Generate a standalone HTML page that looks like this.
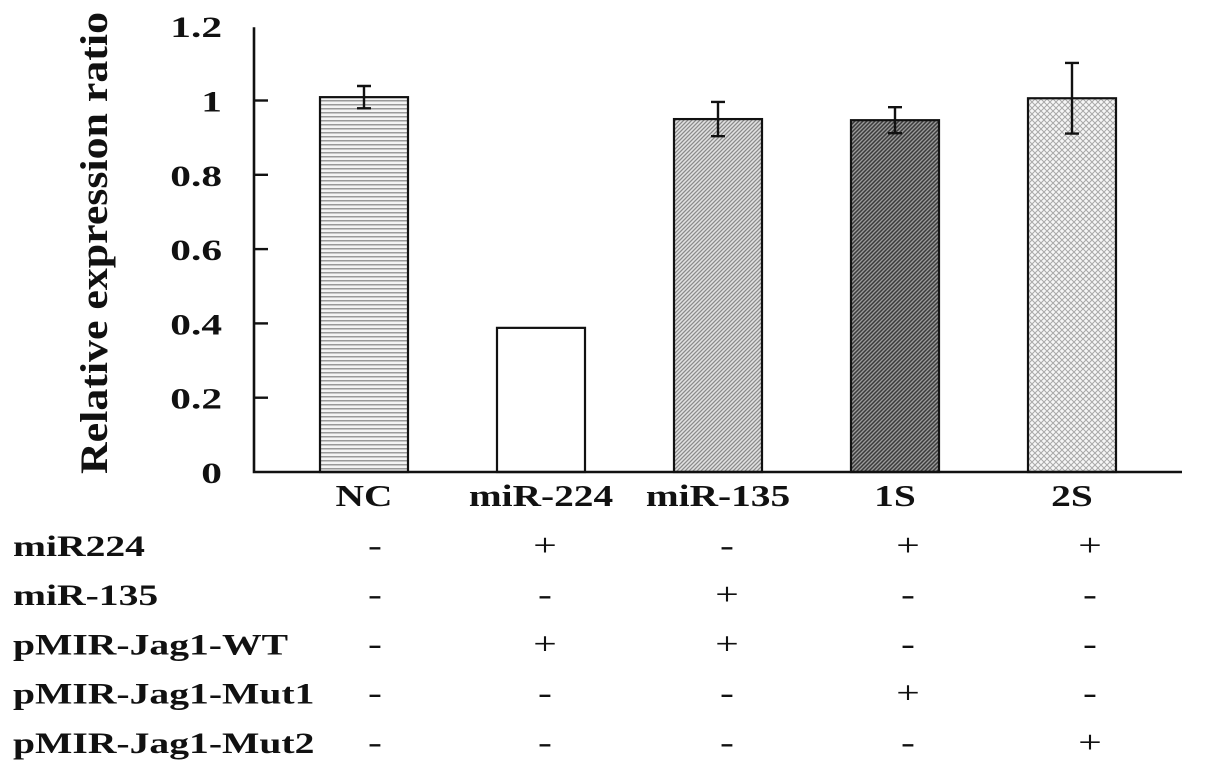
<!DOCTYPE html>
<html><head><meta charset="utf-8"><style>
html,body{margin:0;padding:0;background:#fff;}
svg{display:block;font-family:"Liberation Serif",serif;font-weight:bold;}
</style></head><body>
<svg id="chart" width="1205" height="780" viewBox="0 0 1205 780">
<defs>
<pattern id="pNC" width="4" height="4" patternUnits="userSpaceOnUse"><rect width="4" height="4" fill="#f4f4f4"/><rect y="0" width="4" height="1.5" fill="#9a9a9a"/></pattern>
<pattern id="p135" width="4" height="4" patternUnits="userSpaceOnUse"><rect width="4" height="4" fill="#e2e2e2"/><path d="M-1,1 L1,-1 M0,4 L4,0 M3,5 L5,3" stroke="#8a8a8a" stroke-width="1.3"/></pattern>
<pattern id="p1S" width="4" height="4" patternUnits="userSpaceOnUse"><rect width="4" height="4" fill="#9a9a9a"/><path d="M-1,1 L1,-1 M0,4 L4,0 M3,5 L5,3" stroke="#3a3a3a" stroke-width="1.5"/></pattern>
<pattern id="p2S" width="6" height="6" patternUnits="userSpaceOnUse"><rect width="6" height="6" fill="#f6f6f6"/><path d="M0,0 L6,6 M6,0 L0,6" stroke="#a8a8a8" stroke-width="1"/></pattern>
</defs>
<g id="plot"></g>
</svg>
<script>
const categories = ["NC","miR-224","miR-135","1S","2S"];
const values = [1.009, 0.388, 0.95, 0.947, 1.006];
const errors = [0.03, 0, 0.046, 0.035, 0.095];
const yTicks = [0, 0.2, 0.4, 0.6, 0.8, 1, 1.2];
const yTickLabels = ["0","0.2","0.4","0.6","0.8","1","1.2"];
const rowLabels = ["miR224","miR-135","pMIR-Jag1-WT","pMIR-Jag1-Mut1","pMIR-Jag1-Mut2"];
const rowSigns = [
  ["-","+","-","+","+"],
  ["-","-","+","-","-"],
  ["-","+","+","-","-"],
  ["-","-","-","+","-"],
  ["-","-","-","-","+"]
];
const fills = ["url(#pNC)","#ffffff","url(#p135)","url(#p1S)","url(#p2S)"];

const NS="http://www.w3.org/2000/svg";
const g=document.getElementById('plot');
const x0=254, x1=1182, y0=472, pxPer=371.5;
const y=v=>y0-v*pxPer;
const xc=i=>364+i*177;
const barW=88;
function mk(t,a){const e=document.createElementNS(NS,t);for(const k in a)e.setAttribute(k,a[k]);g.appendChild(e);return e;}
function stretch(t,f){const w=t.getComputedTextLength();t.setAttribute('textLength',(w*f).toFixed(1));t.setAttribute('lengthAdjust','spacingAndGlyphs');}

// bars
categories.forEach((c,i)=>{
  const r=mk('rect',{x:xc(i)-barW/2,y:y(values[i]),width:barW,height:y0-y(values[i]),fill:fills[i],stroke:'#111','stroke-width':2.2});
  
  
  if(errors[i]>0){
    const top=y(values[i]+errors[i]), bot=y(values[i]-errors[i]);
    const e=mk('path',{d:`M${xc(i)},${top}V${bot}M${xc(i)-7},${top}H${xc(i)+7}M${xc(i)-7},${bot}H${xc(i)+7}`,stroke:'#111','stroke-width':2.4,fill:'none'});
    
    
  }
  const t=mk('text',{x:xc(i),y:506,'font-size':31,'text-anchor':'middle',fill:'#111'});
  t.textContent=c;
  
  
  stretch(t,1.27);
});

// axes
const ax=mk('path',{d:`M${x0},${y(1.2)+1}V${y0}H${x1}`,stroke:'#111','stroke-width':2.6,fill:'none'});


yTicks.forEach((v,i)=>{
  if(v>0&&v<1.2){const tk=mk('line',{x1:x0,x2:x0+14,y1:y(v),y2:y(v),stroke:'#111','stroke-width':2.4});
  
  }
  const t=mk('text',{x:222,y:y(v)+11,'font-size':30,'text-anchor':'end',fill:'#111'});
  t.textContent=yTickLabels[i];
  
  
  stretch(t,1.38);
});
const yt=mk('text',{x:0,y:0,'font-size':39,'text-anchor':'middle',fill:'#111',transform:'translate(107,243) rotate(-90)'});
yt.textContent='Relative expression ratio';


yt.setAttribute('textLength','462');
yt.setAttribute('lengthAdjust','spacingAndGlyphs');

// table
const signX=[375,545,727,908,1090];
rowLabels.forEach((lab,r)=>{
  const by=556+r*49.2;
  const t=mk('text',{x:13,y:by,'font-size':30,fill:'#111'});
  t.textContent=lab;
  
  
  stretch(t,1.32);
  rowSigns[r].forEach((s,j)=>{
    const st=mk('text',{x:signX[j],y:by,'font-size':32,'text-anchor':'middle',fill:'#111','font-weight':'normal'});
    st.textContent=s;
    
    
    stretch(st,1.3);
  });
});
</script>
</body></html>
